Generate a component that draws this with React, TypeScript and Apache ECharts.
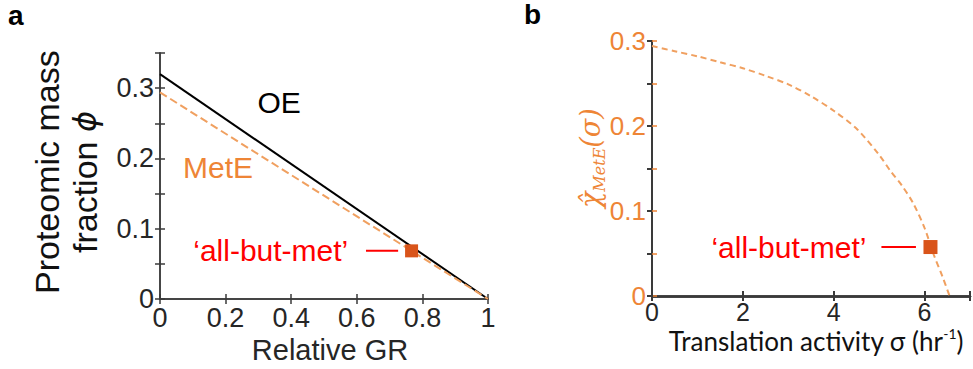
import React, { useEffect, useRef } from "react";
import * as echarts from "echarts";

// Panel a: proteomic mass fraction vs relative growth rate
const relGR = [0, 1];
const oePhi = [0.32, 0];
const metEPhi = [0.294, 0];
const allButMetA = [0.767, 0.0685];

// Panel b: MetE allocation vs translation activity
const sigma = [0, 0.5, 1, 1.5, 2, 2.5, 3, 3.5, 4, 4.5, 5, 5.25, 5.5, 5.75, 6, 6.2, 6.4, 6.55];
const chiMetE = [0.294, 0.288, 0.282, 0.275, 0.268, 0.259, 0.249, 0.235, 0.218, 0.197, 0.166, 0.147, 0.13, 0.109, 0.08, 0.049, 0.022, 0];
const allButMetB = [6.13, 0.0576];

const xTicksA = [0, 0.2, 0.4, 0.6, 0.8, 1];
const yTicksA = [0, 0.1, 0.2, 0.3];
const xTicksB = [0, 2, 4, 6];
const yTicksB = [0, 0.1, 0.2, 0.3];

const DARK = "#262626";
const AXIS = "#3a3a3a";
const ORANGE = "#EE8536";
const DASH = "#F0A060";
const SQUARE = "#D9541A";
const RED = "#FF0000";
const SANS = "Liberation Sans, Arial, sans-serif";
const MATH = "DejaVu Serif, serif";

const near = (v: number, list: number[]) => list.find((t) => Math.abs(t - v) < 1e-6);
const tickFmt = (list: number[]) => (v: number) => {
  const t = near(v, list);
  return t === undefined ? "" : String(parseFloat(t.toFixed(2)));
};

const pairs = (xs: number[], ys: number[]) => xs.map((x, i) => [x, ys[i]]);

export default function App() {
  const ref = useRef<HTMLDivElement>(null);

  useEffect(() => {
    if (!ref.current) return;
    const chart = echarts.init(ref.current, null, { renderer: "svg" });

    const axisLine = (color: string, width: number) => ({ show: true, lineStyle: { color, width } });
    const inTick = (color: string, width = 1.5) => ({ show: true, inside: true, length: 5, lineStyle: { color, width } });

    const textPoint = (
      xi: number,
      yi: number,
      x: number,
      y: number,
      text: string,
      color: string,
      position: string
    ) => ({
      type: "scatter",
      xAxisIndex: xi,
      yAxisIndex: yi,
      symbolSize: 0,
      silent: true,
      data: [[x, y]],
      itemStyle: { opacity: 1 },
      label: {
        show: true,
        position,
        distance: 0,
        formatter: text,
        color,
        opacity: 1,
        fontSize: 30,
        fontFamily: SANS,
      },
      z: 5,
    });

    // vertical axis titles, read bottom to top, anchored at their first letter
    const vTitle = (x: number, y: number, text: string, rich: Record<string, object>) => ({
      type: "text",
      x,
      y,
      rotation: Math.PI / 2,
      silent: true,
      style: { text, align: "left", verticalAlign: "middle", rich },
    });

    const richA = {
      n: { fontSize: 34, fontFamily: SANS, fill: "#111", color: "#111" },
      it: { fontSize: 32, fontStyle: "italic", fontFamily: "DejaVu Sans, sans-serif", fill: "#111", color: "#111" },
    };
    const richB = {
      chi: { fontSize: 27, fontStyle: "italic", fontFamily: MATH, fill: ORANGE, color: ORANGE, lineHeight: 34 },
      sub: { fontSize: 16, fontStyle: "italic", fontFamily: MATH, fill: ORANGE, color: ORANGE, verticalAlign: "bottom", lineHeight: 34 },
      par: { fontSize: 27, fontStyle: "italic", fontFamily: MATH, fill: ORANGE, color: ORANGE, lineHeight: 34 },
    };

    chart.setOption({
      animation: false,
      backgroundColor: "#ffffff",
      graphic: [
        { type: "text", left: 8, top: 1, style: { text: "a", fontSize: 28, fontWeight: "bold", fontFamily: SANS, fill: "#000" } },
        { type: "text", left: 524, top: 0, style: { text: "b", fontSize: 28, fontWeight: "bold", fontFamily: SANS, fill: "#000" } },
        vTitle(47, 294, "{n|Proteomic mass}", richA),
        vTitle(85, 253, "{n|fraction }{it|ϕ}", richA),
        vTitle(590, 208, "{chi|χ̂}{sub|MetE}{par|(σ)}", richB),
      ],
      grid: [
        { left: 160, top: 53, width: 328, height: 252 },
        { left: 652, top: 41, width: 323, height: 255 },
      ],
      xAxis: [
        {
          gridIndex: 0,
          type: "value",
          min: 0,
          max: 1,
          interval: 0.2,
          position: "bottom",
          axisLine: axisLine(AXIS, 1.5),
          axisTick: inTick(AXIS),
          splitLine: { show: false },
          axisLabel: { color: DARK, fontSize: 27, fontFamily: SANS, margin: 5, formatter: tickFmt(xTicksA) },
          name: "Relative GR",
          nameLocation: "middle",
          nameMoveOverlap: false,
          nameGap: 36,
          nameTextStyle: { color: DARK, fontSize: 29, fontFamily: SANS, padding: [0, 0, 0, 12] },
        },
        {
          gridIndex: 0,
          type: "value",
          min: 0,
          max: 1,
          interval: 0.2,
          position: "top",
          axisLine: axisLine(AXIS, 1.5),
          axisTick: inTick(AXIS),
          splitLine: { show: false },
          axisLabel: { show: false },
        },
        {
          gridIndex: 1,
          type: "value",
          min: 0,
          max: 7,
          interval: 1,
          position: "bottom",
          axisLine: axisLine(AXIS, 2.5),
          axisTick: { show: false },
          splitLine: { show: false },
          axisLabel: { color: DARK, fontSize: 25, fontFamily: SANS, margin: 3, formatter: tickFmt(xTicksB) },
          name: "{t|Translation activity σ (hr}{sup|-1}{t|)}",
          nameLocation: "middle",
          nameMoveOverlap: false,
          nameGap: 30,
          nameTextStyle: {
            color: "#111",
            padding: [0, 0, 0, 10],
            rich: {
              t: { fontSize: 26, fontFamily: "Lato, sans-serif", color: "#111", lineHeight: 30 },
              sup: { fontSize: 14, fontFamily: "Lato, sans-serif", color: "#111", verticalAlign: "top", lineHeight: 30 },
            },
          },
        },
        {
          gridIndex: 1,
          type: "value",
          min: 0,
          max: 7,
          interval: 2,
          position: "top",
          axisLine: axisLine(AXIS, 2.5),
          axisTick: inTick(AXIS, 2),
          splitLine: { show: false },
          axisLabel: { show: false },
        },
        {
          // inward bottom ticks of panel b at even values only
          gridIndex: 1,
          type: "value",
          min: 0,
          max: 7,
          interval: 2,
          position: "bottom",
          axisLine: { show: false },
          axisTick: inTick(AXIS, 2),
          splitLine: { show: false },
          axisLabel: { show: false },
        },
      ],
      yAxis: [
        {
          gridIndex: 0,
          type: "value",
          min: 0,
          max: 0.35,
          interval: 0.05,
          position: "left",
          axisLine: axisLine(AXIS, 1.5),
          axisTick: inTick(AXIS),
          splitLine: { show: false },
          axisLabel: { color: DARK, fontSize: 27, fontFamily: SANS, margin: 6, formatter: tickFmt(yTicksA) },
        },
        {
          gridIndex: 0,
          type: "value",
          min: 0,
          max: 0.35,
          interval: 0.05,
          position: "right",
          axisLine: axisLine(AXIS, 1.5),
          axisTick: inTick(AXIS),
          splitLine: { show: false },
          axisLabel: { show: false },
        },
        {
          gridIndex: 1,
          type: "value",
          min: 0,
          max: 0.3,
          interval: 0.05,
          position: "left",
          axisLine: axisLine(ORANGE, 2),
          axisTick: inTick(ORANGE),
          splitLine: { show: false },
          axisLabel: { color: ORANGE, fontSize: 26, fontFamily: SANS, margin: 6, formatter: tickFmt(yTicksB) },
        },
        {
          gridIndex: 1,
          type: "value",
          min: 0,
          max: 0.3,
          interval: 0.05,
          position: "right",
          axisLine: axisLine(AXIS, 2),
          axisTick: inTick(AXIS, 2),
          splitLine: { show: false },
          axisLabel: { show: false },
        },
      ],
      series: [
        {
          name: "OE",
          type: "line",
          xAxisIndex: 0,
          yAxisIndex: 0,
          data: pairs(relGR, oePhi),
          symbol: "none",
          lineStyle: { color: "#000", width: 2 },
          z: 3,
        },
        {
          name: "MetE",
          type: "line",
          xAxisIndex: 0,
          yAxisIndex: 0,
          data: pairs(relGR, metEPhi),
          symbol: "none",
          lineStyle: { color: DASH, width: 2, type: [8, 4] },
          z: 4,
        },
        {
          type: "line",
          xAxisIndex: 0,
          yAxisIndex: 0,
          data: [
            [0.628, allButMetA[1]],
            [0.726, allButMetA[1]],
          ],
          symbol: "none",
          lineStyle: { color: RED, width: 2 },
          z: 4,
        },
        {
          type: "scatter",
          xAxisIndex: 0,
          yAxisIndex: 0,
          data: [allButMetA],
          symbol: "rect",
          symbolSize: 13,
          itemStyle: { color: SQUARE, opacity: 1 },
          z: 6,
        },
        textPoint(0, 0, 0.363, 0.28, "OE", "#000", "inside"),
        textPoint(0, 0, 0.177, 0.187, "MetE", ORANGE, "inside"),
        textPoint(0, 0, 0.574, allButMetA[1], "‘all-but-met’", RED, "left"),

        {
          name: "χ̂ MetE",
          type: "line",
          xAxisIndex: 2,
          yAxisIndex: 2,
          data: pairs(sigma, chiMetE),
          symbol: "none",
          smooth: 0.3,
          lineStyle: { color: DASH, width: 2, type: [6, 4] },
          z: 4,
        },
        {
          type: "line",
          xAxisIndex: 2,
          yAxisIndex: 2,
          data: [
            [5.05, allButMetB[1]],
            [5.81, allButMetB[1]],
          ],
          symbol: "none",
          lineStyle: { color: RED, width: 2 },
          z: 4,
        },
        {
          type: "scatter",
          xAxisIndex: 2,
          yAxisIndex: 2,
          data: [allButMetB],
          symbol: "rect",
          symbolSize: 14,
          itemStyle: { color: SQUARE, opacity: 1 },
          z: 6,
        },
        textPoint(2, 2, 4.72, allButMetB[1], "‘all-but-met’", RED, "left"),
      ],
    });

    return () => chart.dispose();
  }, []);

  return (
    <div
      ref={ref}
      style={{ position: "fixed", left: 0, top: 0, width: 973, height: 369, background: "#fff" }}
    />
  );
}
